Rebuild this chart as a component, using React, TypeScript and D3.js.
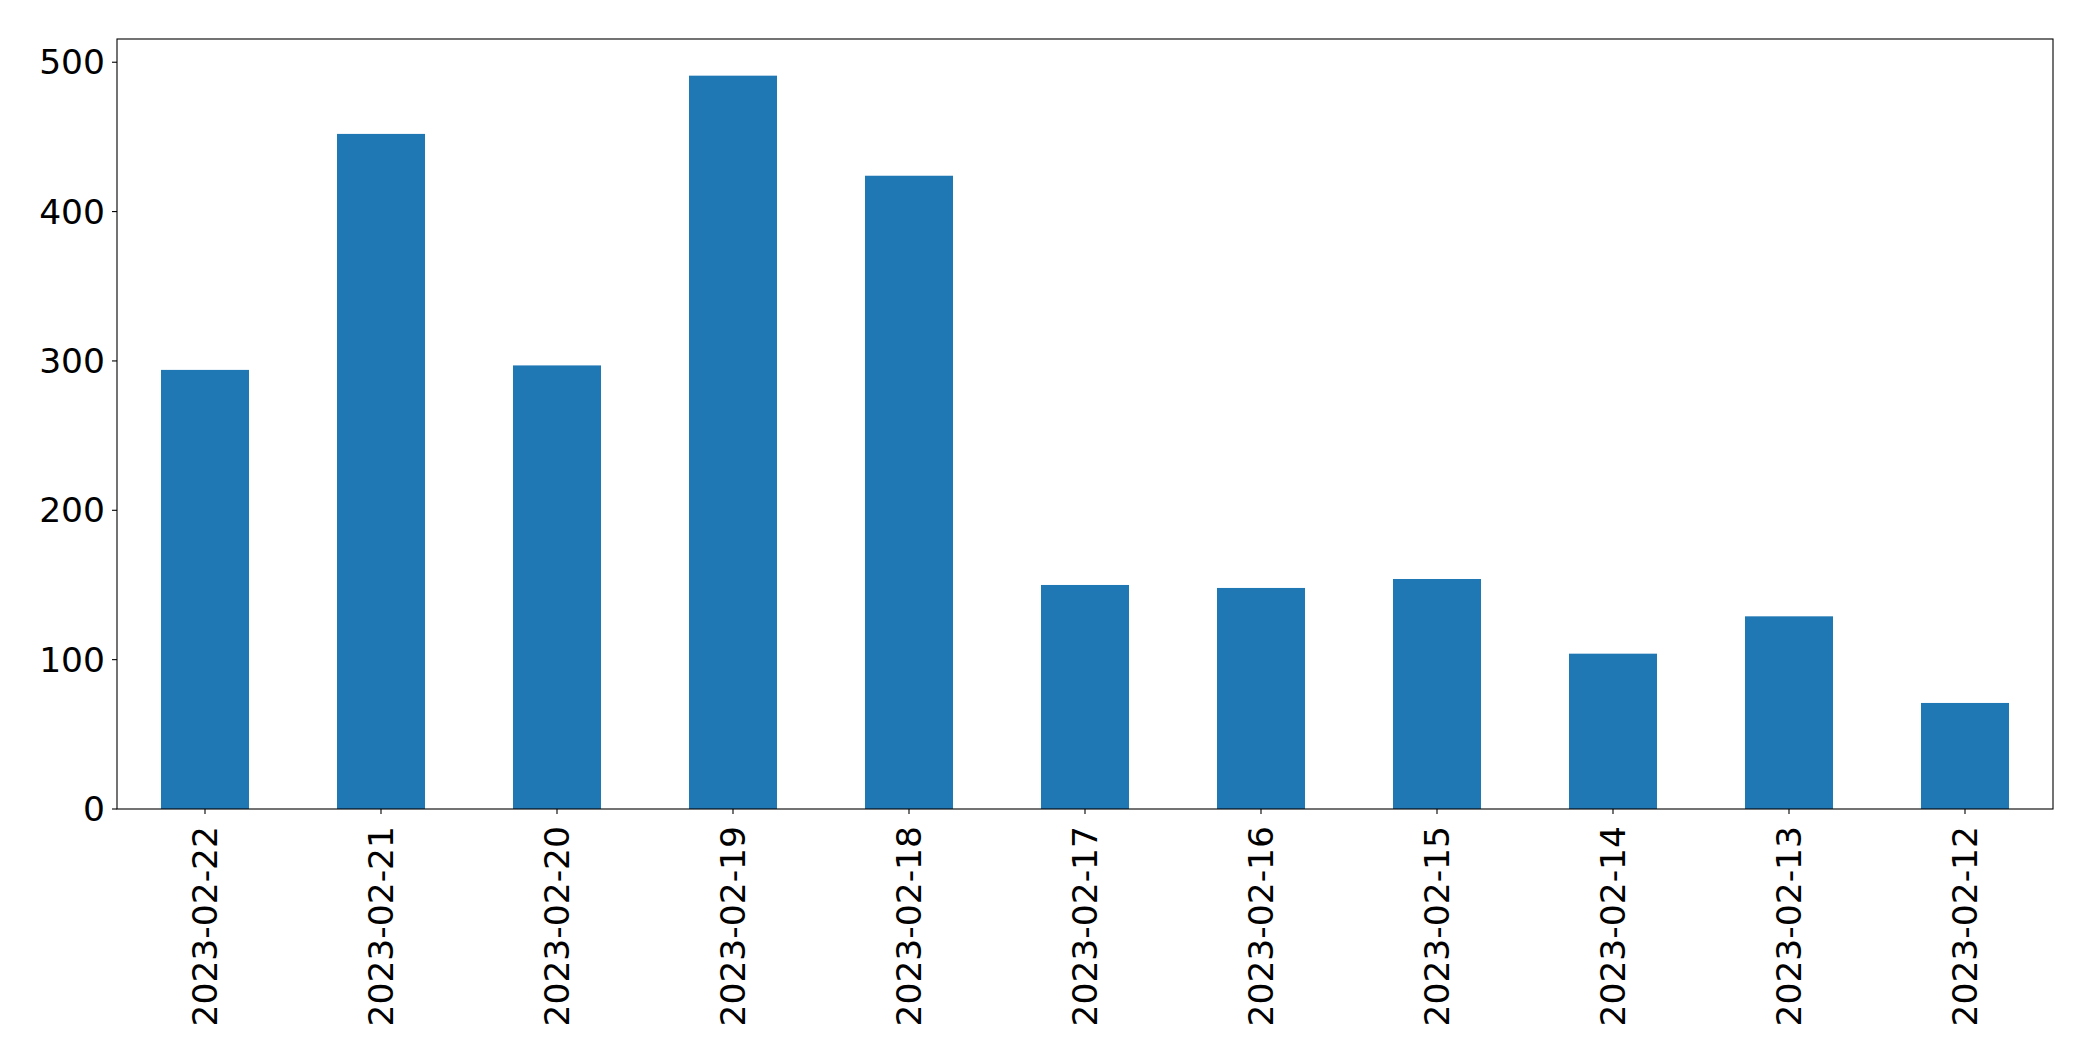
import * as React from 'react';
import * as d3 from 'd3';

const dates = [
  '2023-02-22', '2023-02-21', '2023-02-20', '2023-02-19', '2023-02-18', '2023-02-17',
  '2023-02-16', '2023-02-15', '2023-02-14', '2023-02-13', '2023-02-12',
];
const counts = [294, 452, 297, 491, 424, 150, 148, 154, 104, 129, 71];
const yTicks = [0, 100, 200, 300, 400, 500];

const WIDTH = 2093;
const HEIGHT = 1061;
const margin = { top: 39, right: 40, bottom: 252, left: 117 };
const FONT = '"DejaVu Sans", sans-serif';
const FONT_SIZE = 34.5;

export default function App() {
  const x = d3
    .scaleBand<string>()
    .domain(dates)
    .range([margin.left, WIDTH - margin.right])
    .paddingInner(0.5)
    .paddingOuter(0.25);

  const yMax = (d3.max(counts) || 0) * 1.05;
  const y = d3.scaleLinear().domain([0, yMax]).range([HEIGHT - margin.bottom, margin.top]);

  const x0 = margin.left;
  const x1 = WIDTH - margin.right;
  const y0 = HEIGHT - margin.bottom;
  const y1 = margin.top;

  return (
    <svg
      width={WIDTH}
      height={HEIGHT}
      style={{ position: 'absolute', left: 0, top: 0, background: '#fff' }}
      fontFamily={FONT}
    >
      <rect x={0} y={0} width={WIDTH} height={HEIGHT} fill="#fff" />
      {counts.map((v, i) => (
        <rect
          key={dates[i]}
          x={x(dates[i])}
          y={y(v)}
          width={x.bandwidth()}
          height={y(0) - y(v)}
          fill="#1f77b4"
        />
      ))}

      {/* y axis */}
      {yTicks.map((t) => (
        <g key={t} transform={`translate(0,${y(t)})`}>
          <line x1={x0 - 5} x2={x0} stroke="#000" strokeWidth={1.1} />
          <text
            x={x0 - 12}
            dy="0.35em"
            textAnchor="end"
            fontSize={FONT_SIZE}
            fill="#000"
          >
            {t}
          </text>
        </g>
      ))}

      {/* x axis */}
      {dates.map((d) => {
        const cx = (x(d) || 0) + x.bandwidth() / 2;
        return (
          <g key={d} transform={`translate(${cx},${y0})`}>
            <line y1={0} y2={5} stroke="#000" strokeWidth={1.1} />
            <text
              transform="translate(0,17) rotate(-90)"
              textAnchor="end"
              dy="0.35em"
              fontSize={FONT_SIZE}
              fill="#000"
            >
              {d}
            </text>
          </g>
        );
      })}

      {/* frame */}
      <rect
        x={x0}
        y={y1}
        width={x1 - x0}
        height={y0 - y1}
        fill="none"
        stroke="#000"
        strokeWidth={1.1}
      />
    </svg>
  );
}
